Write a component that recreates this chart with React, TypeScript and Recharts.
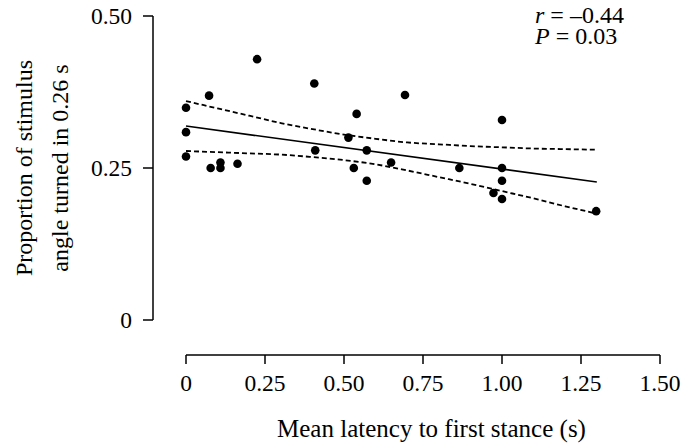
import React from 'react';
import { ComposedChart, Scatter, Line, XAxis, YAxis } from 'recharts';

// Observed data: mean latency to first stance (s) vs proportion of stimulus angle turned
const latency = [0, 0, 0, 0.073, 0.078, 0.109, 0.109, 0.163, 0.225, 0.406, 0.409, 0.514, 0.54, 0.531, 0.572, 0.572, 0.649, 0.693, 0.865, 1.0, 1.0, 1.0, 0.973, 1.0, 1.298];
const proportion = [0.349, 0.309, 0.269, 0.369, 0.25, 0.259, 0.25, 0.257, 0.429, 0.389, 0.279, 0.3, 0.339, 0.25, 0.279, 0.229, 0.259, 0.37, 0.25, 0.329, 0.25, 0.229, 0.209, 0.199, 0.179];

// Regression line
const fitX = [0, 1.3];
const fitY = [0.319, 0.227];

// Confidence band (dashed)
const bandX = [0, 0.1, 0.2, 0.3, 0.4, 0.5, 0.6, 0.7, 0.8, 0.9, 1.0, 1.1, 1.2, 1.3];
const bandUpper = [0.36, 0.348, 0.336, 0.324, 0.314, 0.305, 0.298, 0.292, 0.289, 0.286, 0.284, 0.282, 0.281, 0.28];
const bandLower = [0.278, 0.276, 0.274, 0.272, 0.268, 0.263, 0.256, 0.246, 0.235, 0.224, 0.212, 0.2, 0.187, 0.175];

const xTicks = [0, 0.25, 0.5, 0.75, 1.0, 1.25, 1.5];
const xTickLabels = ['0', '0.25', '0.50', '0.75', '1.00', '1.25', '1.50'];
const yTicks = [0, 0.25, 0.5];
const yTickLabels = ['0', '0.25', '0.50'];

const xTitle = 'Mean latency to first stance (s)';
const yTitle1 = 'Proportion of stimulus';
const yTitle2 = 'angle turned in 0.26 s';
const statR = ' = \u20130.44';
const statP = ' = 0.03';

const points = latency.map((x, i) => ({ x, y: proportion[i] }));
const fitData = fitX.map((x, i) => ({ x, fit: fitY[i] }));
const bandData = bandX.map((x, i) => ({ x, upper: bandUpper[i], lower: bandLower[i] }));

const FONT = 'Liberation Serif';
const txt = { fontFamily: FONT };

const Dot = (props: any) => <circle cx={props.cx} cy={props.cy} r={4.3} fill="#000" />;

export default function App() {
  return (
    <div style={{ position: 'absolute', left: 0, top: 0, width: 691, height: 444, background: '#fff' }}>
      <ComposedChart width={691} height={444} margin={{ top: 16, right: 31, bottom: 0, left: 0 }}>
        <XAxis xAxisId="gap" type="number" dataKey="x" domain={[0, 1.5]} height={35} axisLine={false} tickLine={false} tick={false} />
        <XAxis xAxisId="main" type="number" dataKey="x" domain={[0, 1.5]} ticks={xTicks}
          tickFormatter={(v: number) => xTickLabels[xTicks.indexOf(v)] ?? String(v)}
          height={89} tickSize={9} tickMargin={10}
          axisLine={{ stroke: '#000', strokeWidth: 1.5 }} tickLine={{ stroke: '#000', strokeWidth: 1.5 }}
          tick={{ fill: '#000', fontSize: 23.5, fontFamily: FONT }} />
        <YAxis yAxisId="gap" type="number" domain={[0, 0.5]} width={33} axisLine={false} tickLine={false} tick={false} />
        <YAxis yAxisId="main" type="number" domain={[0, 0.5]} ticks={yTicks}
          tickFormatter={(v: number) => yTickLabels[yTicks.indexOf(v)] ?? String(v)}
          width={153} tickSize={10} tickMargin={11}
          axisLine={{ stroke: '#000', strokeWidth: 1.5 }} tickLine={{ stroke: '#000', strokeWidth: 1.5 }}
          tick={{ fill: '#000', fontSize: 23.5, fontFamily: FONT }} />
        <Line xAxisId="main" yAxisId="main" data={bandData} dataKey="upper" type="monotone" stroke="#000" strokeWidth={1.8} strokeDasharray="5 3" dot={false} activeDot={false} isAnimationActive={false} />
        <Line xAxisId="main" yAxisId="main" data={bandData} dataKey="lower" type="monotone" stroke="#000" strokeWidth={1.8} strokeDasharray="5 3" dot={false} activeDot={false} isAnimationActive={false} />
        <Line xAxisId="main" yAxisId="main" data={fitData} dataKey="fit" type="linear" stroke="#000" strokeWidth={1.6} dot={false} activeDot={false} isAnimationActive={false} />
        <Scatter xAxisId="main" yAxisId="main" data={points} dataKey="y" shape={<Dot />} isAnimationActive={false} />
        <text x={431.5} y={437} textAnchor="middle" fontSize={25} style={txt} fill="#000">
          {xTitle}
        </text>
        <text x={32} y={168} transform="rotate(-90 32 168)" textAnchor="middle" fontSize={24} style={txt} fill="#000">
          {yTitle1}
        </text>
        <text x={68} y={168} transform="rotate(-90 68 168)" textAnchor="middle" fontSize={24} style={txt} fill="#000">
          {yTitle2}
        </text>
        <text x={535} y={23} fontSize={24} style={txt} fill="#000">
          <tspan fontStyle="italic">r</tspan>
          <tspan>{statR}</tspan>
        </text>
        <text x={535} y={44} fontSize={24} style={txt} fill="#000">
          <tspan fontStyle="italic">P</tspan>
          <tspan>{statP}</tspan>
        </text>
      </ComposedChart>
    </div>
  );
}
